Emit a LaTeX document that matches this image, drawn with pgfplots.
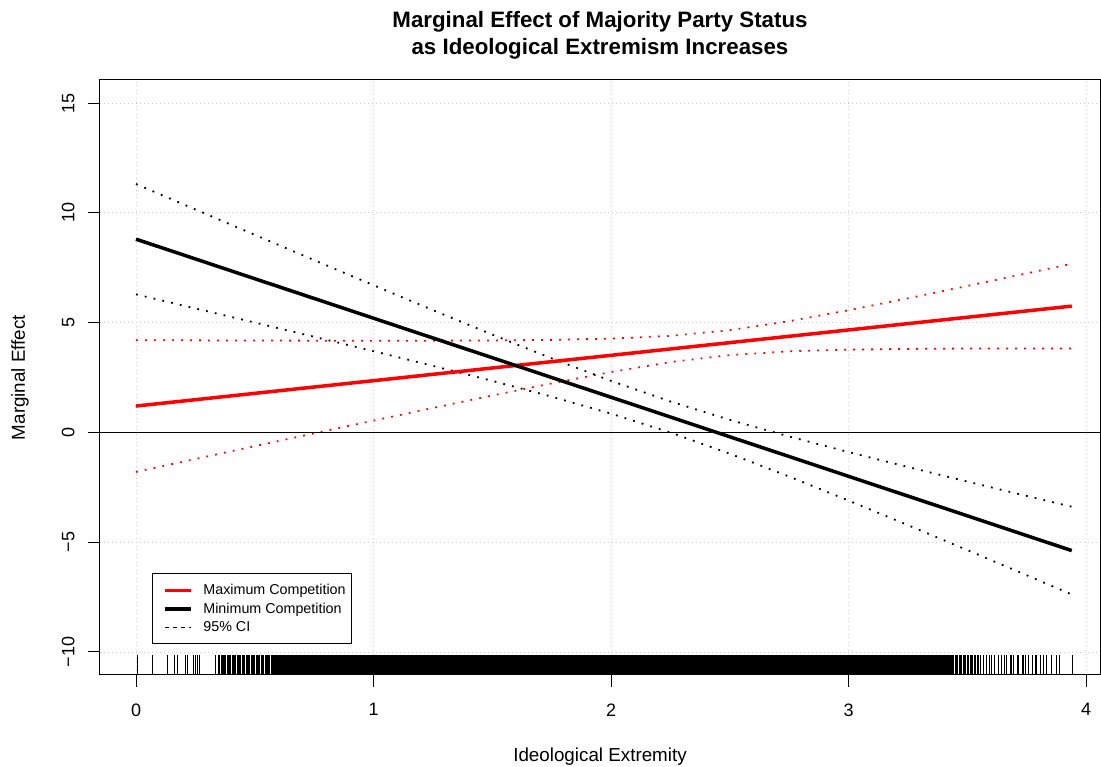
\documentclass[border=0pt]{standalone}
\usepackage{pgfplots}
\pgfplotsset{compat=1.18}
\usepackage{fontspec}
\setmainfont{Liberation Sans}
\definecolor{rred}{RGB}{255,0,0}
\begin{document}
\begin{tikzpicture}
\useasboundingbox (0,0) rectangle (1101pt,767pt);
\begin{axis}[
  at={(100pt,92pt)}, anchor=south west,
  scale only axis, width=1000pt, height=595pt,
  xmin=-0.1516, xmax=4.0589, ymin=-11.05, ymax=16.05,
  axis line style={line width=1pt},
  xtick={0,1,2,3,4}, xticklabels={0,1,2,3,4},
  ytick={-10,-5,0,5,10,15}, yticklabels={−10,−5,0,5,10,15},
  tick align=outside, tick pos=left,
  major tick length=12pt,
  every tick/.style={black, line width=1pt},
  tick label style={font=\fontsize{18}{21}\selectfont},
  xticklabel style={yshift=-13pt},
  yticklabel style={xshift=-10pt, rotate=90, anchor=south},
  grid=major,
  grid style={gray!40, dash pattern=on 1pt off 3pt, line width=0.8pt},
  title={Marginal Effect of Majority Party Status\\as Ideological Extremism Increases},
  title style={align=center, font=\bfseries\fontsize{22.3}{27}\selectfont, at={(axis description cs:0.5,1)}, anchor=south, yshift=11pt},
  xlabel={Ideological Extremity},
  ylabel={Marginal Effect},
  label style={font=\fontsize{18.8}{21}\selectfont},
  xlabel style={at={(axis description cs:0.5,-0.1378)}, anchor=center},
  ylabel style={at={(axis description cs:-0.08,0.5)}, anchor=center},
  legend style={at={(axis description cs:0.052,0.052)}, anchor=south west, draw=black, line width=0.8pt,
    font=\fontsize{14.3}{16}\selectfont, inner xsep=4pt, inner ysep=8.5pt, row sep=2.8pt,
    /tikz/every odd column/.append style={column sep=4pt}},
  legend cell align=left,
  legend image code/.code={\path[draw=none,fill=none] (-9pt,-1pt) rectangle (32pt,1pt);\draw[#1] (0pt,0pt) -- (26pt,0pt);},
]
% confidence bands
\addplot[rred, line width=1.8pt, dash pattern=on 1.8pt off 7.2pt, forget plot] coordinates {
(0,4.2) (0.25,4.191) (0.5,4.183) (0.75,4.177) (1,4.174) (1.25,4.177) (1.5,4.187) (1.75,4.213) (2,4.27) (2.25,4.397) (2.5,4.655) (2.75,5.063) (3,5.563) (3.25,6.106) (3.5,6.668) (3.75,7.24) (3.94,7.68)};
\addplot[rred, line width=1.8pt, dash pattern=on 1.8pt off 7.2pt, forget plot] coordinates {
(0,-1.8) (0.25,-1.213) (0.5,-0.627) (0.75,-0.045) (1,0.536) (1.25,1.111) (1.5,1.679) (1.75,2.229) (2,2.75) (2.25,3.201) (2.5,3.521) (2.75,3.689) (3,3.767) (3.25,3.802) (3.5,3.818) (3.75,3.822) (3.94,3.822)};
\addplot[black, line width=1.8pt, dash pattern=on 1.8pt off 7.2pt, forget plot] coordinates {
(0,11.313) (0.25,10.154) (0.5,8.998) (0.75,7.846) (1,6.702) (1.25,5.569) (1.5,4.454) (1.75,3.372) (2,2.346) (2.25,1.408) (2.5,0.570) (2.75,-0.188) (3,-0.896) (3.25,-1.576) (3.5,-2.240) (3.75,-2.894) (3.94,-3.386)};
\addplot[black, line width=1.8pt, dash pattern=on 1.8pt off 7.2pt, forget plot] coordinates {
(0,6.287) (0.25,5.646) (0.5,5.002) (0.75,4.354) (1,3.698) (1.25,3.031) (1.5,2.346) (1.75,1.628) (2,0.854) (2.25,-0.008) (2.5,-0.970) (2.75,-2.012) (3,-3.104) (3.25,-4.224) (3.5,-5.360) (3.75,-6.506) (3.94,-7.382)};
% zero line
\addplot[black, line width=1pt, forget plot] coordinates {(-0.1516,0) (4.0589,0)};
% main effects
\addplot[rred, line width=3.5pt] coordinates {(0,1.2) (3.94,5.751)};
\addlegendentry{Maximum Competition}
\addplot[black, line width=3.5pt] coordinates {(0,8.8) (3.94,-5.384)};
\addlegendentry{Minimum Competition}
\addlegendimage{black, line width=1pt, dash pattern=on 3.5pt off 4.5pt}
\addlegendentry{95\% CI}
% rug
\addplot[fill=black, draw=none, forget plot] coordinates {(0.573,-11.05) (0.573,-10.137) (3.44,-10.137) (3.44,-11.05)};
\addplot[only marks, mark=|, mark size=10pt, mark options={line width=0.75pt, black}, forget plot] coordinates {
(0.007,-10.594) (0.069,-10.594) (0.133,-10.594) (0.161,-10.594) (0.174,-10.594) (0.206,-10.594) (0.217,-10.594) (0.241,-10.594) (0.248,-10.594) (0.260,-10.594) (0.265,-10.594) (0.336,-10.594)
(0.345,-10.594) (0.349,-10.594) (0.353,-10.594) (0.358,-10.594) (0.362,-10.594) (0.368,-10.594) (0.372,-10.594) (0.377,-10.594) (0.383,-10.594) (0.387,-10.594) (0.392,-10.594) (0.398,-10.594) (0.404,-10.594) (0.408,-10.594) (0.413,-10.594) (0.419,-10.594) (0.425,-10.594) (0.429,-10.594) (0.436,-10.594) (0.441,-10.594) (0.446,-10.594) (0.452,-10.594) (0.457,-10.594) (0.463,-10.594) (0.468,-10.594) (0.474,-10.594) (0.479,-10.594) (0.485,-10.594) (0.490,-10.594) (0.495,-10.594) (0.500,-10.594) (0.505,-10.594) (0.511,-10.594) (0.516,-10.594) (0.521,-10.594) (0.527,-10.594) (0.532,-10.594) (0.537,-10.594) (0.543,-10.594) (0.548,-10.594) (0.553,-10.594) (0.558,-10.594) (0.563,-10.594) (0.568,-10.594)
(3.443,-10.594) (3.448,-10.594) (3.454,-10.594) (3.459,-10.594) (3.465,-10.594) (3.470,-10.594) (3.477,-10.594) (3.482,-10.594) (3.488,-10.594) (3.494,-10.594) (3.500,-10.594) (3.505,-10.594) (3.512,-10.594) (3.518,-10.594) (3.523,-10.594) (3.530,-10.594) (3.536,-10.594) (3.541,-10.594) (3.548,-10.594) (3.554,-10.594)
(3.567,-10.594) (3.582,-10.594) (3.592,-10.594) (3.603,-10.594) (3.614,-10.594) (3.631,-10.594) (3.645,-10.594) (3.655,-10.594) (3.666,-10.594) (3.680,-10.594) (3.687,-10.594) (3.694,-10.594) (3.709,-10.594) (3.715,-10.594) (3.730,-10.594) (3.737,-10.594) (3.743,-10.594) (3.758,-10.594) (3.772,-10.594) (3.786,-10.594) (3.793,-10.594) (3.807,-10.594) (3.821,-10.594) (3.835,-10.594) (3.852,-10.594) (3.877,-10.594) (3.887,-10.594) (3.943,-10.594)};
\end{axis}
\end{tikzpicture}
\end{document}
